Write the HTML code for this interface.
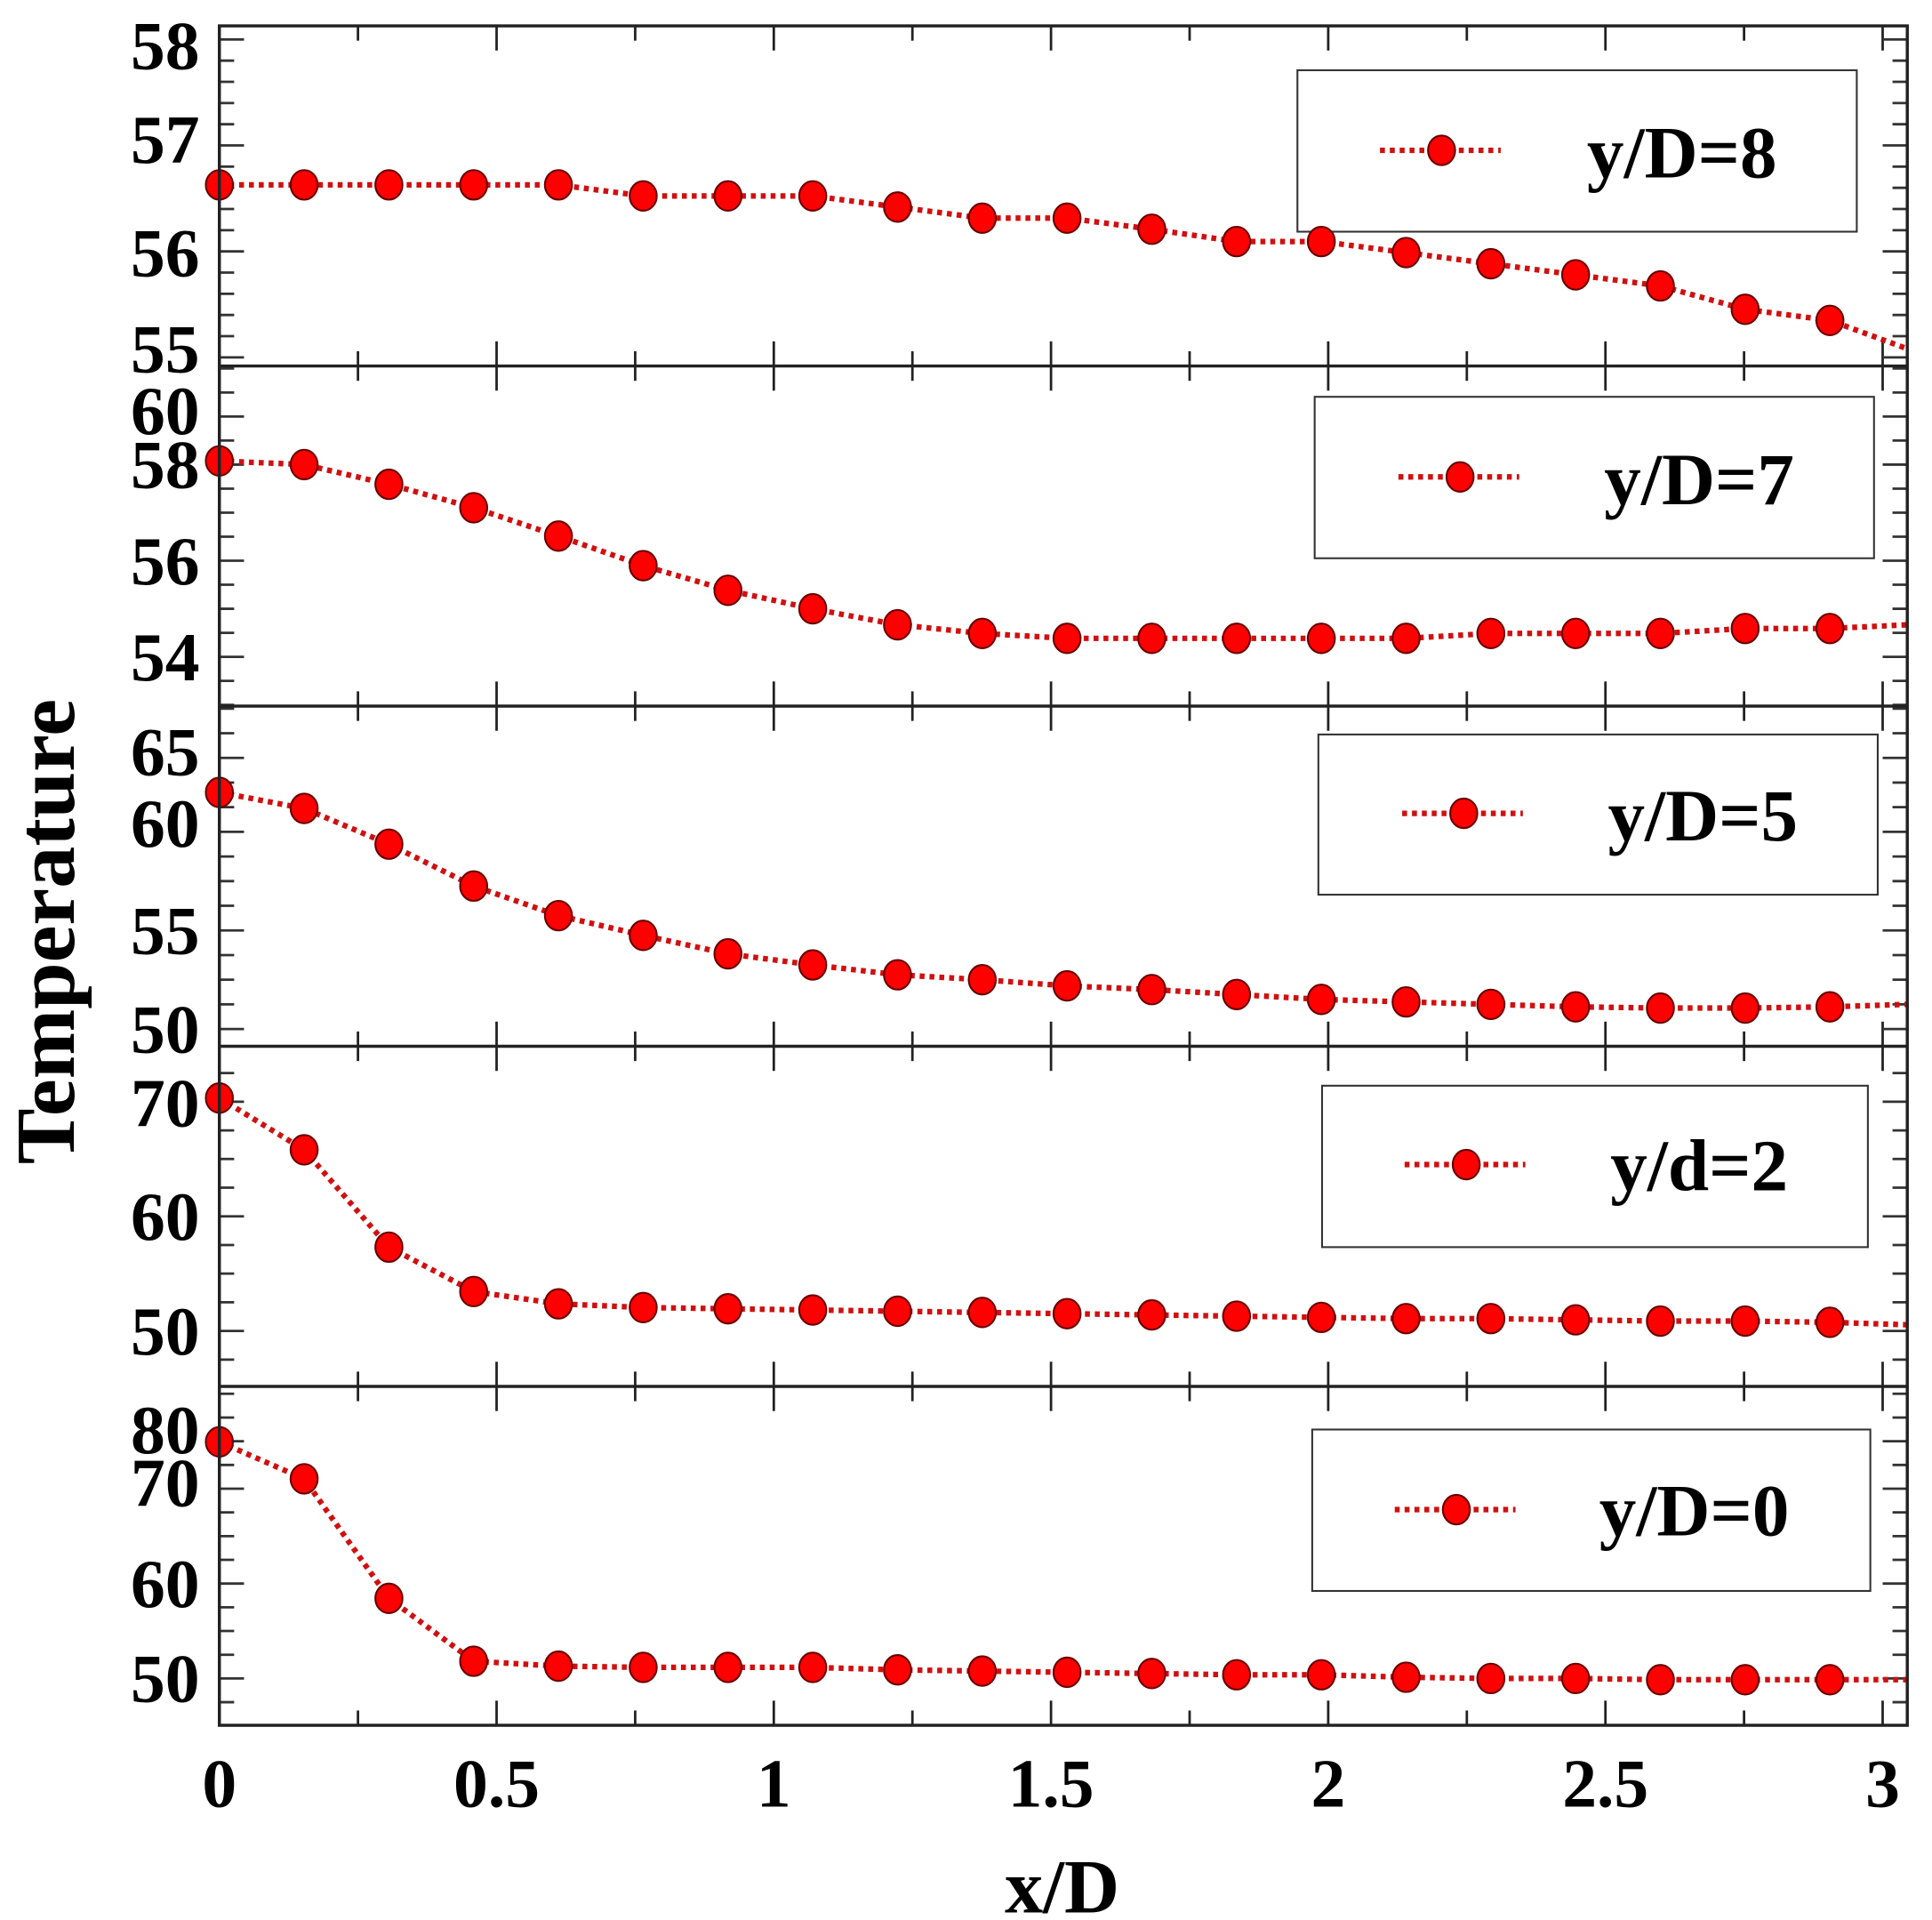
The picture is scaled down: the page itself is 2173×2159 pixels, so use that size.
<!DOCTYPE html>
<html><head><meta charset="utf-8"><style>
html,body{margin:0;padding:0;background:#fff;}
svg{display:block;}
text{font-family:"Liberation Serif",serif;font-weight:bold;fill:#000;}
</style></head><body>
<svg id="s" width="2173" height="2159" viewBox="0 0 1568 1558" xmlns="http://www.w3.org/2000/svg">
<g id="g"></g>
<g font-size="56" text-anchor="end">
<text x="162" y="56">58</text><text x="162" y="132">57</text><text x="162" y="224">56</text><text x="162" y="302">55</text>
<text x="162" y="352">60</text><text x="162" y="396">58</text><text x="162" y="474">56</text><text x="162" y="552">54</text>
<text x="162" y="629">65</text><text x="162" y="687">60</text><text x="162" y="774">55</text><text x="162" y="854">50</text>
<text x="162" y="914">70</text><text x="162" y="1006">60</text><text x="162" y="1099">50</text>
<text x="162" y="1179">80</text><text x="162" y="1222">70</text><text x="162" y="1304">60</text><text x="162" y="1381">50</text>
</g>
<g font-size="56" text-anchor="middle">
<text x="178" y="1466">0</text><text x="403" y="1466">0.5</text><text x="628" y="1466">1</text><text x="853" y="1466">1.5</text><text x="1078" y="1466">2</text><text x="1303" y="1466">2.5</text><text x="1528" y="1466">3</text>
</g>
<text x="862" y="1552" font-size="62" text-anchor="middle">x/D</text>
<text transform="translate(60,756) rotate(-90)" font-size="68" text-anchor="middle">Temperature</text>
<g font-size="60">
<text x="1288" y="144">y/D=8</text>
<text x="1302" y="409">y/D=7</text>
<text x="1305" y="682">y/D=5</text>
<text x="1307" y="966">y/d=2</text>
<text x="1298" y="1246">y/D=0</text>
</g>
</svg>
<script>
var g=document.getElementById('g'),h='';
var L=178,R=1548,tops=[21,297,573,849,1125,1400];
var xs=[];for(var i=0;i<20;i++)xs.push(178+i*68.8);
var data=[
[150,150,150,150,150,159,159,159,168,177,177,186,196,196,205,214,223,232,251,260,283],
[374,377,393,412,435,459,479,494,507,514,518,518,518,518,518,514,514,514,510,510,507],
[643,656,685,719,743,759,774,783,791,795,800,803,807,811,813,815,817,818,818,817,815],
[891,933,1012,1048,1058,1061,1062,1063,1064,1065,1066,1067,1068,1069,1070,1070,1071,1072,1072,1073,1075],
[1170,1200,1297,1348,1352,1353,1353,1353,1355,1356,1357,1358,1359,1359,1361,1362,1362,1363,1363,1363,1363]];
var majors=[[29,112,204,290],[333,377,455,533],[610,668,755,835],[895,987,1080],[1160,1203,1285,1362]];
var leg=[[1053,57,454,131,1170,122],[1067,322,454,131,1185,387],[1070,596,454,130,1188,660],[1073,881,443,131,1190,945],[1065,1160,453,131,1182,1225]];
for(var p=0;p<5;p++){
 var t=tops[p],b=tops[p+1];
 for(var k=0;k<=12;k++){var x=L+k*112.5;var len=(k%2==0)?20:12;
  h+='<line x1="'+x+'" y1="'+t+'" x2="'+x+'" y2="'+(t+len)+'" stroke="#222" stroke-width="2"/>';
  h+='<line x1="'+x+'" y1="'+b+'" x2="'+x+'" y2="'+(b-len)+'" stroke="#222" stroke-width="2"/>';}
 var m=majors[p];
 var sub=(p==0)?5:4;
 var step=(m[m.length-1]-m[m.length-2])/sub;
 for(var y=m[m.length-1]+step*6;y>t;y-=step){
  if(y>=b)continue;
  var isM=false;for(var q=0;q<m.length;q++)if(Math.abs(m[q]-y)<step/2)isM=true;
  var len=isM?20:12;
  h+='<line x1="'+L+'" y1="'+y+'" x2="'+(L+len)+'" y2="'+y+'" stroke="#333" stroke-width="2"/>';
  h+='<line x1="'+R+'" y1="'+y+'" x2="'+(R-len)+'" y2="'+y+'" stroke="#333" stroke-width="2"/>';}
 var l=leg[p];
 h+='<rect x="'+l[0]+'" y="'+l[1]+'" width="'+l[2]+'" height="'+l[3]+'" fill="#fff" stroke="#333" stroke-width="1.5"/>';
 h+='<line x1="'+(l[4]-50)+'" y1="'+l[5]+'" x2="'+(l[4]+48)+'" y2="'+l[5]+'" stroke="#d01010" stroke-width="4.5" stroke-dasharray="4,4"/>';
 h+='<ellipse cx="'+l[4]+'" cy="'+l[5]+'" rx="11" ry="12" fill="#f00" stroke="#600" stroke-width="1.5"/>';
 var d=data[p],pts='';
 for(var i=0;i<20;i++)pts+=xs[i]+','+d[i]+' ';
 pts+=R+','+d[20];
 h+='<polyline points="'+pts+'" fill="none" stroke="#d01010" stroke-width="4.5" stroke-dasharray="4,4"/>';
 for(var i=0;i<20;i++)h+='<ellipse cx="'+xs[i]+'" cy="'+d[i]+'" rx="11" ry="12" fill="#f00" stroke="#600" stroke-width="1.5"/>';
}
h+='<rect x="'+L+'" y="21" width="'+(R-L)+'" height="'+(1400-21)+'" fill="none" stroke="#222" stroke-width="2.5"/>';
for(var p=1;p<5;p++)h+='<line x1="'+L+'" y1="'+tops[p]+'" x2="'+R+'" y2="'+tops[p]+'" stroke="#222" stroke-width="2.5"/>';
g.innerHTML=h;
</script>
</body></html>
